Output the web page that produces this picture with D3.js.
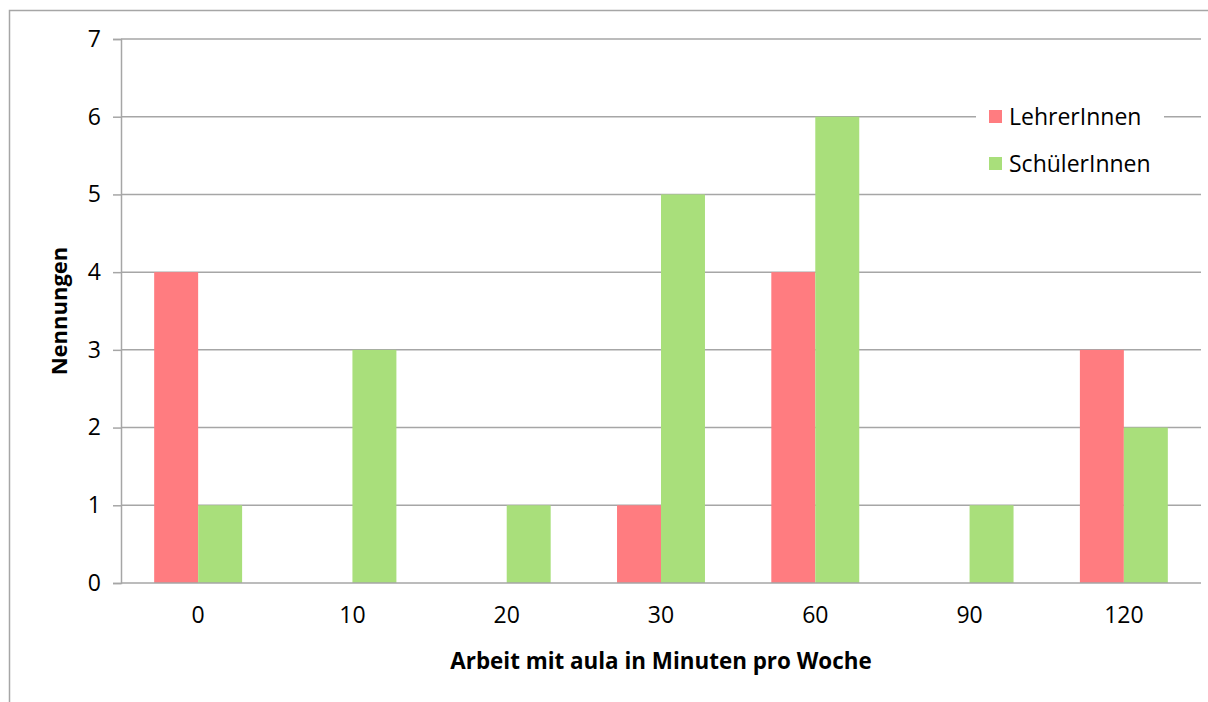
<!DOCTYPE html>
<html>
<head>
<meta charset="utf-8">
<script src="https://cdn.jsdelivr.net/npm/d3@7"></script>
<style>
	body { margin: 0; background: #fff; }
	svg text { font-family: "Open Sans", "Noto Sans", sans-serif; fill: #000; }
</style>
</head>
<body>
<svg id="chart" width="1208" height="702"></svg>
<script>
var categories = ["0", "10", "20", "30", "60", "90", "120"];
var seriesNames = ["LehrerInnen", "SchülerInnen"];
var lehrer = [4, 0, 0, 1, 4, 0, 3];
var schueler = [1, 3, 1, 5, 6, 1, 2];
var yTicks = [0, 1, 2, 3, 4, 5, 6, 7];
var colors = ["#ff7c80", "#a9df7b"];

var margin = {top: 39, right: 7, bottom: 119, left: 121},
	width = 1208 - margin.left - margin.right,
	height = 702 - margin.top - margin.bottom,
	root = d3.select("#chart"),
	svg = root.append("g")
		.attr("transform", "translate(" + margin.left + "," + margin.top + ")"),
	x = d3.scaleBand().domain(categories).range([0, width]).paddingInner(0.43).paddingOuter(0.215),
	xs = d3.scaleBand().domain(seriesNames).range([0, x.bandwidth()]),
	y = d3.scaleLinear().domain([0, 7]).range([height, 0]);

// outer chart border (only top and left visible)
root.append("path")
	.attr("d", "M9.5,702 L9.5,10.5 L1208,10.5")
	.attr("fill", "none")
	.attr("stroke", "#a6a6a6")
	.attr("stroke-width", 1.5);

// gridlines + y axis
var yAxis = svg.append("g")
	.call(d3.axisLeft(y).tickValues(yTicks).tickSize(8).tickPadding(12).tickFormat(d3.format("d")));
yAxis.select(".domain").attr("stroke", "#a6a6a6").attr("stroke-width", 1.5);
yAxis.selectAll(".tick line").attr("stroke", "#a6a6a6").attr("stroke-width", 1.5);
yAxis.selectAll(".tick text").style("font-size", "23px");

svg.append("g").selectAll("line")
	.data(yTicks.filter(function(d) { return d > 0; }))
	.enter().append("line")
	.attr("x1", 0).attr("x2", width)
	.attr("y1", function(d) { return y(d); })
	.attr("y2", function(d) { return y(d); })
	.attr("stroke", "#a6a6a6")
	.attr("stroke-width", 1.5);

// bars
var data = categories.map(function(c, i) { return {cat: c, vals: [lehrer[i], schueler[i]]}; });
var groups = svg.selectAll(".grp")
	.data(data)
	.enter().append("g")
	.attr("transform", function(d) { return "translate(" + x(d.cat) + ",0)"; });
groups.selectAll("rect")
	.data(function(d) { return d.vals.map(function(v, j) { return {name: seriesNames[j], v: v, j: j}; }); })
	.enter().append("rect")
	.attr("x", function(d) { return xs(d.name); })
	.attr("width", xs.bandwidth())
	.attr("y", function(d) { return y(d.v); })
	.attr("height", function(d) { return height - y(d.v); })
	.attr("fill", function(d) { return colors[d.j]; });

// x axis
var xAxis = svg.append("g")
	.attr("transform", "translate(0," + height + ")")
	.call(d3.axisBottom(x).tickSize(0).tickPadding(24));
xAxis.select(".domain").attr("stroke", "#a6a6a6").attr("stroke-width", 1.5).attr("d", "M0,0H" + width);
xAxis.selectAll(".tick text").style("font-size", "23px");

// axis titles
root.append("text")
	.attr("x", 661).attr("y", 669)
	.attr("text-anchor", "middle")
	.style("font-size", "22.4px").style("font-weight", "bold")
	.text("Arbeit mit aula in Minuten pro Woche");
root.append("text")
	.attr("transform", "translate(67,311) rotate(-90)")
	.attr("text-anchor", "middle")
	.style("font-size", "22px").style("font-weight", "bold")
	.text("Nennungen");

// legend
var legend = root.append("g");
legend.append("rect")
	.attr("x", 976).attr("y", 95).attr("width", 188).attr("height", 90)
	.attr("fill", "#fff");
seriesNames.forEach(function(n, i) {
	var ly = 117 + i * 47;
	legend.append("rect")
		.attr("x", 989).attr("y", ly - 7).attr("width", 13).attr("height", 13)
		.attr("fill", colors[i]);
	legend.append("text")
		.attr("x", 1009).attr("y", ly + 8)
		.style("font-size", "23px")
		.text(n);
});
</script>
</body>
</html>
